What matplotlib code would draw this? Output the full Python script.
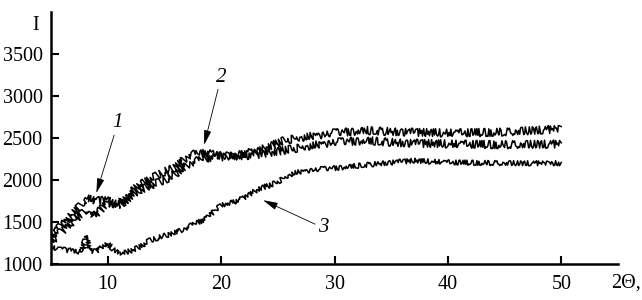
import matplotlib
matplotlib.use("Agg")
import matplotlib.pyplot as plt

# ---- data ----
x12 = [5, 5.8, 7, 8.1, 8.8, 9.9, 11.1, 12.8, 15, 15.8, 17.2, 18.7, 20.2, 23.1, 25.8, 29.9, 32.8, 36, 40, 45, 50]
curve1 = [1320, 1440, 1600, 1780, 1760, 1760, 1730, 1940, 2100, 2140, 2300, 2320, 2280, 2340, 2480, 2560, 2590, 2570, 2560, 2570, 2610]
curve2 = [1260, 1370, 1520, 1640, 1570, 1720, 1710, 1880, 2000, 2060, 2200, 2260, 2270, 2300, 2360, 2450, 2470, 2440, 2430, 2420, 2430]
x3 = [5, 6, 7, 7.7, 8.1, 8.4, 9, 9.9, 10.5, 11.3, 12.8, 13.7, 15.8, 16.6, 18.7, 20, 21.6, 23.4, 24.6, 26.3, 28, 29.9, 32, 34.3, 37, 40, 45, 50]
curve3 = [1200, 1170, 1160, 1140, 1340, 1160, 1150, 1250, 1180, 1120, 1200, 1280, 1370, 1410, 1540, 1700, 1760, 1900, 1950, 2080, 2120, 2140, 2170, 2200, 2230, 2210, 2200, 2200]
xticks = [10, 20, 30, 40, 50]
yticks = [1000, 1500, 2000, 2500, 3000, 3500]
labels = ["1", "2", "3"]

plt.rcParams['font.family'] = ['Liberation Serif', 'DejaVu Serif']

fig = plt.figure(figsize=(6.42, 3.0), dpi=100)
ax = fig.add_axes([51/642, 36/300, (618-51)/642, (264-12)/300])

for xs, ys, sc in [(x12, curve1, 4.0), (x12, curve2, 4.0), (x3, curve3, 2.5)]:
    ln, = ax.plot(xs, ys, color='black', lw=1.1)
    ln.set_sketch_params(scale=sc, length=1.0, randomness=2.0)

ax.set_xlim(5, 55)
ax.set_ylim(1000, 4000)
ax.set_xticks(xticks)
ax.set_yticks(yticks)
ax.tick_params(direction='in', length=6, width=1.5, labelsize=14.5)
ax.tick_params(axis='x', pad=8)
ax.tick_params(axis='y', pad=6)
for s in ['top', 'right']:
    ax.spines[s].set_visible(False)
for s in ['left', 'bottom']:
    ax.spines[s].set_linewidth(1.8)

fig.text(36/642, 1 - 25/300, "I", fontsize=14.5, ha='center', va='center')
fig.text(611/642, 1 - 283/300, "2\u0398,", fontsize=14.5, ha='left', va='center')

arrow = dict(arrowstyle='-|>,head_length=0.6,head_width=0.15', color='black', lw=0.6, shrinkA=0, shrinkB=0)
ax.annotate(labels[0], xy=(9.0, 1845), xytext=(10.9, 2680), fontsize=15, style='italic',
            ha='center', va='center', arrowprops=arrow)
ax.annotate(labels[1], xy=(18.5, 2417), xytext=(20.0, 3226), fontsize=15, style='italic',
            ha='center', va='center', arrowprops=arrow)
ax.annotate(labels[2], xy=(23.7, 1760), xytext=(29.0, 1430), fontsize=15, style='italic',
            ha='center', va='center', arrowprops=arrow)

fig.savefig("out.png", dpi=100)
